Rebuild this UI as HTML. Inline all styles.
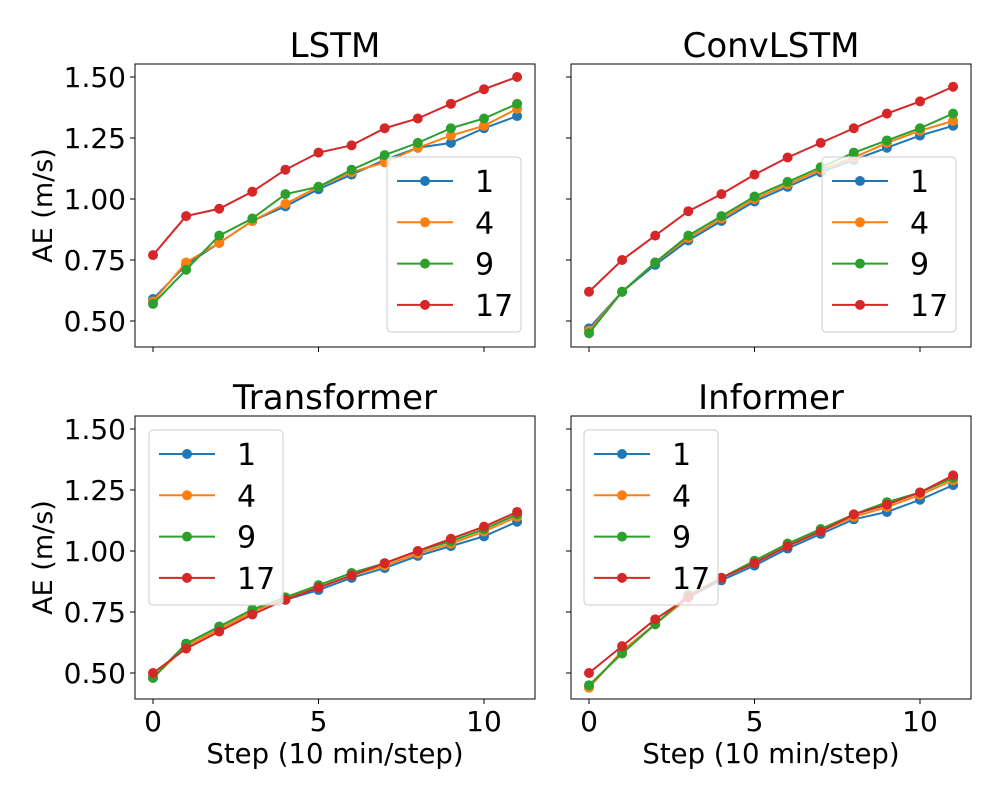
<!DOCTYPE html>
<html><head><meta charset="utf-8"><style>body{margin:0;background:#fff}svg{display:block;font-family:"DejaVu Sans","Liberation Sans",sans-serif}</style></head>
<body>
<svg id="c" width="1000" height="800"></svg>
<script>
const steps=[0,1,2,3,4,5,6,7,8,9,10,11];
const seriesNames=["1","4","9","17"];
const colors=["#1f77b4","#ff7f0e","#2ca02c","#d62728"];
const yTicks=[0.5,0.75,1.0,1.25,1.5];
const yTickLabels=["0.50","0.75","1.00","1.25","1.50"];
const xTicks=[0,5,10];
const lstm1=[0.59,0.73,0.82,0.91,0.97,1.04,1.10,1.16,1.21,1.23,1.29,1.34];
const lstm4=[0.58,0.74,0.82,0.91,0.98,1.05,1.11,1.15,1.21,1.26,1.30,1.37];
const lstm9=[0.57,0.71,0.85,0.92,1.02,1.05,1.12,1.18,1.23,1.29,1.33,1.39];
const lstm17=[0.77,0.93,0.96,1.03,1.12,1.19,1.22,1.29,1.33,1.39,1.45,1.50];
const conv1=[0.47,0.62,0.73,0.83,0.91,0.99,1.05,1.11,1.16,1.21,1.26,1.30];
const conv4=[0.46,0.62,0.74,0.84,0.92,1.00,1.06,1.12,1.17,1.23,1.28,1.32];
const conv9=[0.45,0.62,0.74,0.85,0.93,1.01,1.07,1.13,1.19,1.24,1.29,1.35];
const conv17=[0.62,0.75,0.85,0.95,1.02,1.10,1.17,1.23,1.29,1.35,1.40,1.46];
const trans1=[0.48,0.62,0.69,0.76,0.80,0.84,0.89,0.93,0.98,1.02,1.06,1.12];
const trans4=[0.48,0.61,0.68,0.75,0.81,0.85,0.90,0.94,0.99,1.03,1.08,1.14];
const trans9=[0.48,0.62,0.69,0.76,0.81,0.86,0.91,0.95,1.00,1.04,1.09,1.15];
const trans17=[0.50,0.60,0.67,0.74,0.80,0.85,0.90,0.95,1.00,1.05,1.10,1.16];
const inf1=[0.44,0.59,0.70,0.81,0.88,0.94,1.01,1.07,1.13,1.16,1.21,1.27];
const inf4=[0.44,0.59,0.70,0.81,0.89,0.95,1.03,1.08,1.14,1.18,1.23,1.29];
const inf9=[0.45,0.58,0.70,0.82,0.89,0.96,1.03,1.09,1.15,1.20,1.24,1.30];
const inf17=[0.50,0.61,0.72,0.81,0.89,0.95,1.02,1.08,1.15,1.19,1.24,1.31];

const NS="http://www.w3.org/2000/svg";
const svg=document.getElementById('c');
function mk(tag,attrs,parent,text){const e=document.createElementNS(NS,tag);for(const k in attrs)e.setAttribute(k,attrs[k]);if(text!==undefined)e.textContent=text;(parent||svg).appendChild(e);return e;}
const panels=[
 {title:"LSTM",x0:135,y0:64,data:[lstm1,lstm4,lstm9,lstm17],leg:[387,157],ylab:true,xlab:false},
 {title:"ConvLSTM",x0:571,y0:64,data:[conv1,conv4,conv9,conv17],leg:[822,157],ylab:false,xlab:false},
 {title:"Transformer",x0:135,y0:416,data:[trans1,trans4,trans9,trans17],leg:[149,430],ylab:true,xlab:true},
 {title:"Informer",x0:571,y0:416,data:[inf1,inf4,inf9,inf17],leg:[584,430],ylab:false,xlab:true}
];
panels.forEach(p=>{
 const W=400,H=283;
 const g=mk('g',{});
 
 
 const xs=v=>p.x0+18+v*33.1;
 const ys=v=>p.y0+13+(1.5-v)*244;
 const t=mk('text',{x:p.x0+W/2,y:p.y0-7,'text-anchor':'middle','font-size':34,fill:'#000'},g,p.title);
 
 
 yTicks.forEach((v,i)=>{
  mk('line',{x1:p.x0-5,x2:p.x0,y1:ys(v),y2:ys(v),stroke:'#000','stroke-width':1},g);
  if(p.ylab){const tl=mk('text',{x:p.x0-9,y:ys(v)+10,'text-anchor':'end','font-size':28},g,yTickLabels[i]);
   
   }
 });
 xTicks.forEach(v=>{
  mk('line',{x1:xs(v),x2:xs(v),y1:p.y0+H,y2:p.y0+H+5,stroke:'#000','stroke-width':1},g);
  if(p.xlab){const tl=mk('text',{x:xs(v),y:p.y0+H+32,'text-anchor':'middle','font-size':28},g,String(v));
   
   }
 });
 if(p.ylab){const yl=mk('text',{x:0,y:0,transform:`translate(${p.x0-83},${p.y0+H/2}) rotate(-90)`,'text-anchor':'middle','font-size':27},g,'AE (m/s)');
  
  }
 if(p.xlab){const xl=mk('text',{x:p.x0+W/2,y:p.y0+H+64,'text-anchor':'middle','font-size':27.5},g,'Step (10 min/step)');
  
  }
 p.data.forEach((arr,si)=>{
  const pts=arr.map((v,i)=>xs(steps[i])+','+ys(v)).join(' ');
  const pl=mk('polyline',{points:pts,fill:'none',stroke:colors[si],'stroke-width':2},g);
  
  
  arr.forEach((v,i)=>{const c=mk('circle',{cx:xs(steps[i]),cy:ys(v),r:5,fill:colors[si]},g);
   
   });
 });
 const fr=mk('rect',{x:p.x0,y:p.y0,width:W,height:H,fill:'none',stroke:'#000','stroke-width':1},g);
 
 
 const lg=mk('g',{},g);
 
 
 const [lx,ly]=p.leg;
 mk('rect',{x:lx,y:ly,width:134,height:175,rx:4,fill:'#fff','fill-opacity':0.8,stroke:'#ccc','stroke-width':1},lg);
 seriesNames.forEach((n,si)=>{
  const yy=ly+24+si*41.3;
  const e=mk('g',{},lg);
  
  
  mk('line',{x1:lx+10,x2:lx+66,y1:yy,y2:yy,stroke:colors[si],'stroke-width':2},e);
  mk('circle',{cx:lx+38,cy:yy,r:5,fill:colors[si]},e);
  mk('text',{x:lx+88,y:yy+11,'font-size':30},e,n);
 });
});
</script>
</body></html>
